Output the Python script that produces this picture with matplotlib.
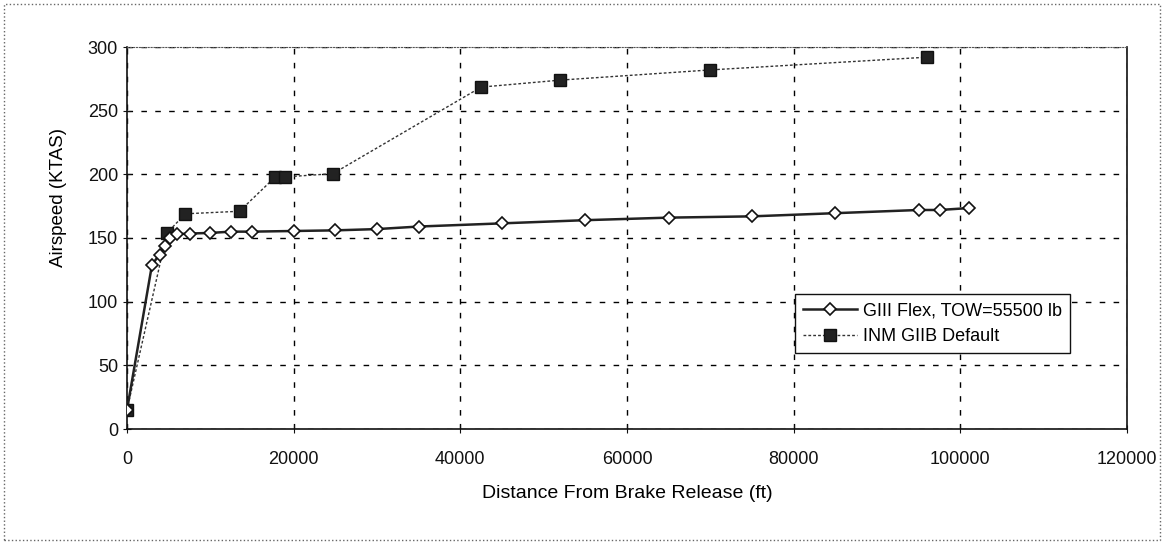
import matplotlib
matplotlib.use('Agg')
import matplotlib.pyplot as plt
from matplotlib.patches import Rectangle

# GIII Flex, TOW=55500 lb
giii_dist = [0, 3000, 3900, 4600, 5200, 6000, 7500, 10000, 12500, 15000, 20000,
             25000, 30000, 35000, 45000, 55000, 65000, 75000, 85000, 95000, 97500, 101000]
giii_speed = [15, 129, 137, 144, 150, 153, 153.5, 154, 155, 155, 155.5,
              156, 157, 159, 161.5, 164, 166, 167, 169.5, 172, 172, 173.5]

# INM GIIB Default
inm_dist = [0, 4800, 7000, 13500, 17800, 19000, 24700, 42500, 52000, 70000, 96000]
inm_speed = [15, 154, 169, 171, 198, 198, 200.5, 268.5, 274, 282, 292]

x_ticks = [0, 20000, 40000, 60000, 80000, 100000, 120000]
y_ticks = [0, 50, 100, 150, 200, 250, 300]

plt.rcParams['font.family'] = ['Liberation Sans', 'DejaVu Sans']

fig = plt.figure(figsize=(11.68, 5.46), dpi=100)
ax = fig.add_axes([127 / 1168, 1 - 429 / 546, 1000 / 1168, 382 / 546])

ax.plot(giii_dist, giii_speed, color='#222222', lw=1.8, marker='D', ms=6.5,
        mfc='white', mec='#111111', mew=1.2, label='GIII Flex, TOW=55500 lb', zorder=4)
ax.plot(inm_dist, inm_speed, color='#333333', lw=1.0, ls=(0, (2, 1.5)), marker='s', ms=8,
        mfc='#222222', mec='#111111', label='INM GIIB Default', zorder=3)

ax.set_xlim(0, 120000)
ax.set_ylim(0, 300)
ax.set_xticks(x_ticks)
ax.set_yticks(y_ticks)
ax.grid(True, color='black', ls=(0, (4, 6)), lw=1.0)
ax.tick_params(direction='inout', length=6, labelsize=13, colors='#111111')
ax.tick_params(axis='x', pad=13)
for side in ['left', 'bottom', 'right']:
    ax.spines[side].set_color('#111111')
    ax.spines[side].set_linewidth(1.2)
ax.spines['top'].set_color('#555555')
ax.spines['top'].set_linestyle(':')

ax.set_xlabel('Distance From Brake Release (ft)', fontsize=14, labelpad=12)
ax.set_ylabel('Airspeed (KTAS)', fontsize=13.5)
ax.yaxis.set_label_coords(-0.06, 0.607)

leg = ax.legend(loc='upper left', bbox_to_anchor=(0.668, 0.353), borderaxespad=0,
                fontsize=13, frameon=True, fancybox=False, framealpha=1,
                edgecolor='#111111', handlelength=3.0, handletextpad=0.3,
                borderpad=0.45, labelspacing=0.5)
leg.get_frame().set_linewidth(1.0)

# outer chart border
fig.patches.append(Rectangle((4 / 1168, 6 / 546), 1156 / 1168, 536 / 546,
                             transform=fig.transFigure, fill=False,
                             ec='#666666', lw=1.0, ls=':'))

fig.savefig('out.png', dpi=100)
